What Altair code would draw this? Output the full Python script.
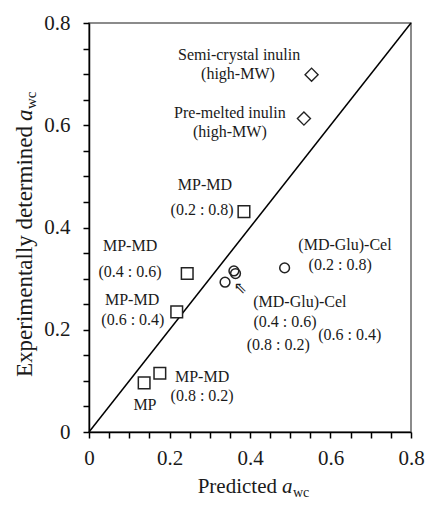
import altair as alt
import pandas as pd

# ---- data ----
sq_x = [0.137, 0.176, 0.218, 0.244, 0.385]
sq_y = [0.096, 0.115, 0.235, 0.310, 0.431]
ci_x = [0.338, 0.360, 0.364, 0.486]
ci_y = [0.293, 0.315, 0.310, 0.321]
di_x = [0.534, 0.553]
di_y = [0.613, 0.699]
line_x = [0.0, 0.8]
line_y = [0.0, 0.8]

label_text = ["Semi-crystal inulin", "(high-MW)", "Pre-melted inulin", "(high-MW)",
              "MP-MD", "(0.2 : 0.8)", "MP-MD", "(0.4 : 0.6)", "MP-MD", "(0.6 : 0.4)",
              "MP-MD", "(0.8 : 0.2)", "MP",
              "(MD-Glu)-Cel", "(0.2 : 0.8)", "(MD-Glu)-Cel", "(0.4 : 0.6)", "(0.6 : 0.4)", "(0.8 : 0.2)"]
label_x = [0.373, 0.370, 0.350, 0.350,
           0.288, 0.281, 0.102, 0.102, 0.107, 0.109,
           0.281, 0.281, 0.139,
           0.636, 0.624, 0.524, 0.487, 0.648, 0.470]
label_y = [0.737, 0.700, 0.624, 0.586,
           0.483, 0.434, 0.364, 0.313, 0.258, 0.219,
           0.108, 0.070, 0.053,
           0.366, 0.326, 0.254, 0.215, 0.190, 0.170]
arrow_x = [0.376]
arrow_y = [0.2825]

tick_vals = [0.0, 0.05, 0.1, 0.15, 0.2, 0.25, 0.3, 0.35, 0.4,
             0.45, 0.5, 0.55, 0.6, 0.65, 0.7, 0.75, 0.8]
label_vals = [0.0, 0.2, 0.4, 0.6, 0.8]

FONT = "Liberation Serif"
INK = "#1a1a1a"

xs = alt.Scale(domain=[0, 0.8], nice=False, zero=False)
ys = alt.Scale(domain=[0, 0.8], nice=False, zero=False)

# axis with minor+major ticks (no labels)
x_tick_axis = alt.Axis(orient="bottom", values=tick_vals, labels=False, title=None,
                       grid=False, ticks=True, tickSize=6, tickColor="black",
                       tickWidth=1.5, domain=True, domainColor="black", domainWidth=1.5)
y_tick_axis = alt.Axis(orient="left", values=tick_vals, labels=False, title=None,
                       grid=False, ticks=True, tickSize=6, tickColor="black",
                       tickWidth=1.5, domain=True, domainColor="black", domainWidth=1.5)
# axis with labels only
x_lab_axis = alt.Axis(orient="bottom", values=label_vals, format=".1~f", title=None,
                      grid=False, ticks=False, domain=False, labelFont=FONT,
                      labelFontSize=21, labelColor=INK, labelPadding=15,
                      labelFlush=False, labelOverlap=False)
y_lab_axis = alt.Axis(orient="left", values=label_vals, format=".1~f", title=None,
                      grid=False, ticks=False, domain=False, labelFont=FONT,
                      labelFontSize=21, labelColor=INK, labelPadding=19,
                      labelFlush=False, labelOverlap=False)

line_df = pd.DataFrame({"x": line_x, "y": line_y})
diag = alt.Chart(line_df).mark_line(color="black", strokeWidth=1.5).encode(
    x=alt.X("x:Q", scale=xs, axis=x_tick_axis),
    y=alt.Y("y:Q", scale=ys, axis=y_tick_axis),
)
diag_lab = alt.Chart(line_df).mark_line(opacity=0).encode(
    x=alt.X("x:Q", scale=xs, axis=x_lab_axis),
    y=alt.Y("y:Q", scale=ys, axis=y_lab_axis),
)

sq_df = pd.DataFrame({"x": sq_x, "y": sq_y})
squares = alt.Chart(sq_df).mark_point(shape="square", size=135, filled=False,
                                      fill="white", fillOpacity=1, stroke="#222",
                                      strokeWidth=1.5, opacity=1).encode(
    x=alt.X("x:Q", scale=xs, axis=None), y=alt.Y("y:Q", scale=ys, axis=None))

ci_df = pd.DataFrame({"x": ci_x, "y": ci_y})
circles = alt.Chart(ci_df).mark_point(shape="circle", size=95, filled=False,
                                      fill="white", fillOpacity=0, stroke="#222",
                                      strokeWidth=1.5, opacity=1).encode(
    x=alt.X("x:Q", scale=xs, axis=None), y=alt.Y("y:Q", scale=ys, axis=None))

di_df = pd.DataFrame({"x": di_x, "y": di_y})
diamonds = alt.Chart(di_df).mark_point(shape="diamond", size=170, filled=False,
                                       fill="white", fillOpacity=1, stroke="#222",
                                       strokeWidth=1.4, opacity=1).encode(
    x=alt.X("x:Q", scale=xs, axis=None), y=alt.Y("y:Q", scale=ys, axis=None))

lab_df = pd.DataFrame({"t": label_text, "x": label_x, "y": label_y})
labels = alt.Chart(lab_df).mark_text(font=FONT, fontSize=16, color=INK,
                                     align="center", baseline="middle").encode(
    x=alt.X("x:Q", scale=xs, axis=None), y=alt.Y("y:Q", scale=ys, axis=None),
    text="t:N")

ar_df = pd.DataFrame({"x": arrow_x, "y": arrow_y, "t": ["\u21d6"]})
arrow = alt.Chart(ar_df).mark_text(font="DejaVu Sans", fontSize=16, color=INK,
                                   align="center", baseline="middle").encode(
    x=alt.X("x:Q", scale=xs, axis=None), y=alt.Y("y:Q", scale=ys, axis=None),
    text="t:N")

# axis titles (with italic a and subscript wc)
def txt(s, x, y, size=21, style="normal", align="left", angle=0, baseline="alphabetic"):
    return alt.Chart(pd.DataFrame({"t": [s]})).mark_text(
        font=FONT, fontSize=size, fontStyle=style, color=INK, align=align,
        baseline=baseline, angle=angle).encode(
        x=alt.value(x), y=alt.value(y), text="t:N")

xt1 = txt("Predicted", 188, 470, align="right")
xt2 = txt("a", 193, 470, style="italic")
xt3 = txt("wc", 204, 474, size=14)

yt1 = txt("Experimentally determined", -57, 103, size=23, align="right", angle=270)
yt2 = txt("a", -57, 98, size=23, style="italic", angle=270)
yt3 = txt("wc", -53, 86, size=15, angle=270)

chart = alt.layer(diag, diag_lab, squares, circles, diamonds, labels, arrow,
                  xt1, xt2, xt3, yt1, yt2, yt3).resolve_axis(
    x="independent", y="independent").properties(
    width=322, height=409,
    autosize=alt.AutoSizeParams(type="none"),
    padding={"left": 89, "top": 23, "right": 14, "bottom": 73},
    background="white",
).configure_view(stroke="#666", strokeWidth=1.5)

chart.save("out.html", embed_options={"renderer": "svg", "actions": False})
